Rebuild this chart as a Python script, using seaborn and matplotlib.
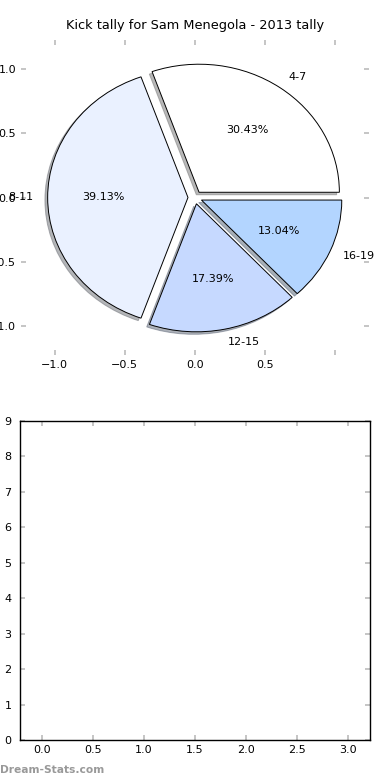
import matplotlib
matplotlib.use("Agg")
import matplotlib.pyplot as plt
import seaborn as sns
import numpy as np

labels = ["4-7", "8-11", "12-15", "16-19"]
counts = [7, 9, 4, 3]
colors = ["#FFFFFF", "#EAF1FF", "#C6D9FF", "#B3D5FF"]
title = "Kick tally for Sam Menegola - 2013 tally"
pie_ticks = [-1.0, -0.5, 0.0, 0.5, 1.0]
pie_xtick_labels = ["\u22121.0", "\u22120.5", "0.0", "0.5", ""]
pie_ytick_labels = ["\u22121.0", "\u22120.5", "0.0", "0.5", "1.0"]
bottom_xticks = [0.0, 0.5, 1.0, 1.5, 2.0, 2.5, 3.0]
bottom_yticks = list(range(10))

sns.set_theme(style="white", rc={
    "xtick.direction": "in", "ytick.direction": "in",
    "xtick.top": True, "ytick.right": True,
    "xtick.bottom": True, "ytick.left": True,
    "xtick.color": "#BBBBBB", "ytick.color": "#BBBBBB",
    "xtick.labelcolor": "black", "ytick.labelcolor": "black",
    "xtick.major.size": 3.5, "ytick.major.size": 3.5,
    "xtick.major.width": 1.2, "ytick.major.width": 1.2,
    "xtick.labelsize": 8, "ytick.labelsize": 8,
    "axes.edgecolor": "black", "axes.linewidth": 1.0,
    "text.color": "black", "axes.labelcolor": "black",
})
plt.rcParams["font.family"] = ["DejaVu Sans"]

fig = plt.figure(figsize=(3.9, 7.8), dpi=100)
ax1 = fig.add_axes([21/390, 1-355/780, 348/390, 315/780])
ax2 = fig.add_axes([20/390, 1-740/780, 350/390, 319/780])

wedges, texts, autotexts = ax1.pie(
    counts, labels=labels, colors=colors, autopct="%1.2f%%",
    explode=[0.05]*len(counts),
    shadow={"ox": -0.014, "oy": -0.014, "shade": 0.55},
    startangle=0,
    wedgeprops=dict(edgecolor="black", linewidth=0.7),
    textprops=dict(fontsize=8, color="black"), frame=True)
ax1.set_aspect("auto")
ax1.set_xlim(-1.24, 1.24)
ax1.set_ylim(-1.23, 1.23)
ax1.set_xticks(pie_ticks)
ax1.set_xticklabels(pie_xtick_labels)
ax1.set_yticks(pie_ticks)
ax1.set_yticklabels(pie_ytick_labels)
for s in ax1.spines.values():
    s.set_visible(False)
ax1.set_title(title, fontsize=9.3, pad=8, color="black")

ax2.set_xlim(-0.215, 3.215)
ax2.set_ylim(0, 9)
ax2.set_xticks(bottom_xticks)
ax2.set_yticks(bottom_yticks)
ax2.tick_params(axis="y", pad=6)

fig.text(0.0, 1-770/780, "Dream-Stats.com", color="#999999", fontsize=7.7,
         fontweight="bold", ha="left", va="center")

fig.savefig("out.png", dpi=100)
